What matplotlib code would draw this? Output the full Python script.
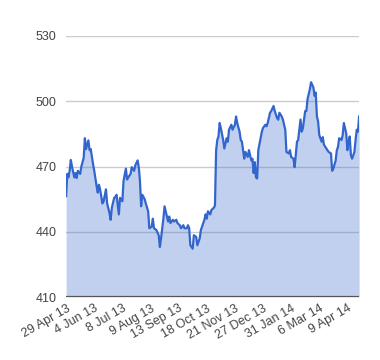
import numpy as np
import matplotlib
matplotlib.use("Agg")
import matplotlib.pyplot as plt

plt.rcParams['font.family'] = ['Liberation Sans', 'DejaVu Sans']

# trading-day index (from 29 Apr 13) and closing price
day = [0, 1, 2, 3, 4, 5, 7, 8, 9, 10, 12, 13, 15, 16, 17, 19, 20, 21, 23, 24,
       26, 27, 28, 29, 31, 32, 34, 35, 37, 38, 39, 41, 42, 43, 45, 46, 48, 49,
       51, 52, 53, 55, 56, 58, 59, 61, 62, 63, 64, 65, 67, 68, 70, 71, 73, 74,
       75, 77, 79, 80, 81, 83, 84, 85, 87, 88, 89, 91, 92, 94, 95, 97, 98, 100,
       101, 103, 104, 105, 106, 108, 109, 111, 112, 114, 115, 117, 118, 119,
       120, 121, 123, 124, 126, 127, 128, 129, 130, 131, 132, 134, 135, 137,
       138, 139, 141, 142, 144, 145, 146, 148, 149, 150, 152, 153, 155, 156,
       158, 159, 160, 161, 162, 163, 164, 167, 168, 170, 171, 172, 174, 175,
       177, 178, 180, 181, 182, 184, 185, 187, 188, 190, 191, 192, 194, 195,
       197, 198, 200, 201, 202, 204, 205, 206, 208, 209, 211, 212, 213, 214,
       215, 216, 218, 219, 220, 222, 223, 224, 226, 227, 228, 230, 231, 232,
       233, 235, 236, 237, 239, 240, 241, 242, 243, 244, 246, 247, 248, 249,
       250]
price = [456.4, 466.6, 465, 468, 473, 470, 465, 467, 464.7, 468, 466.6, 470,
         474, 483, 478, 482, 477.5, 478, 471, 468, 461, 458, 461.6, 459.5, 453,
         454, 459.5, 453, 448.6, 445.5, 451, 455.6, 456, 457, 448, 455.6, 454,
         463.4, 469, 464, 465, 466.6, 469.7, 468, 470.5, 472.8, 469.7, 463.4,
         451.7, 457, 455, 453, 449.4, 441.6, 442.3, 446, 441.6, 440.8, 438.4,
         433, 437, 446, 451.7, 449.4, 444.7, 447, 444, 445.5, 444.7, 445.5, 444,
         443, 441.6, 443, 441.6, 441.6, 443, 441.6, 433.8, 432.2, 438.4, 437.6,
         433.8, 437, 440.8, 444, 445.5, 448, 446, 449.4, 448, 450, 451, 452,
         477.5, 482.2, 483.8, 490, 487.7, 482.2, 478.3, 483, 481.4, 486.9,
         489.2, 486.9, 489.2, 493, 490, 486, 482.2, 481.4, 473.6, 476.7, 474.4,
         477.5, 472.8, 473.6, 467, 472, 465, 464.5, 477.5, 486, 487.7, 489.2,
         488.5, 490, 494.7, 495.5, 497.8, 495.5, 492.3, 491.5, 494.7, 493,
         491.5, 486.9, 476.7, 476, 477.5, 474.4, 473.6, 469.7, 481.4, 482.2,
         491.6, 486, 487.5, 495.5, 495.5, 501, 505.6, 508.75, 506.4, 502.5, 504,
         493, 490.8, 484.5, 481.4, 483.5, 480, 478.3, 477.5, 476.7, 476, 468,
         469, 472.8, 477.5, 479, 483, 482.2, 484.5, 490, 485.3, 477.5, 481.4,
         483.8, 475.2, 473.6, 476.7, 482.2, 486.9, 486, 493]

tick_days = [0, 24, 48, 72, 96, 120, 144, 168, 192, 216, 240]
tick_labels = ['29 Apr 13', '4 Jun 13', '8 Jul 13', '9 Aug 13', '13 Sep 13',
               '18 Oct 13', '21 Nov 13', '27 Dec 13', '31 Jan 14', '6 Mar 14',
               '9 Apr 14']
y_ticks = [410, 440, 470, 500, 530]

fig = plt.figure(figsize=(3.8, 3.6), dpi=100)
ax = fig.add_axes([0.174, 0.175, 0.771, 0.725])

ax.fill_between(day, price, 410, color='#3366cc', alpha=0.3, lw=0, zorder=2)
ax.plot(day, price, color='#3366cc', lw=1.6, zorder=3)

ax.set_xlim(0, 250)
ax.set_ylim(410, 530)
ax.set_yticks(y_ticks)
ax.set_xticks(tick_days)
ax.set_xticklabels(tick_labels, rotation=30, ha='right', rotation_mode='anchor')
ax.grid(axis='y', color='#cccccc', lw=1, zorder=1)
ax.axhline(410, color='#555555', lw=1.6, zorder=4)

for s in ax.spines.values():
    s.set_visible(False)
ax.tick_params(axis='both', length=0, labelsize=9, colors='#444444')
ax.tick_params(axis='y', pad=7)
ax.tick_params(axis='x', pad=4)

fig.savefig('out.png', dpi=100, facecolor='white')
